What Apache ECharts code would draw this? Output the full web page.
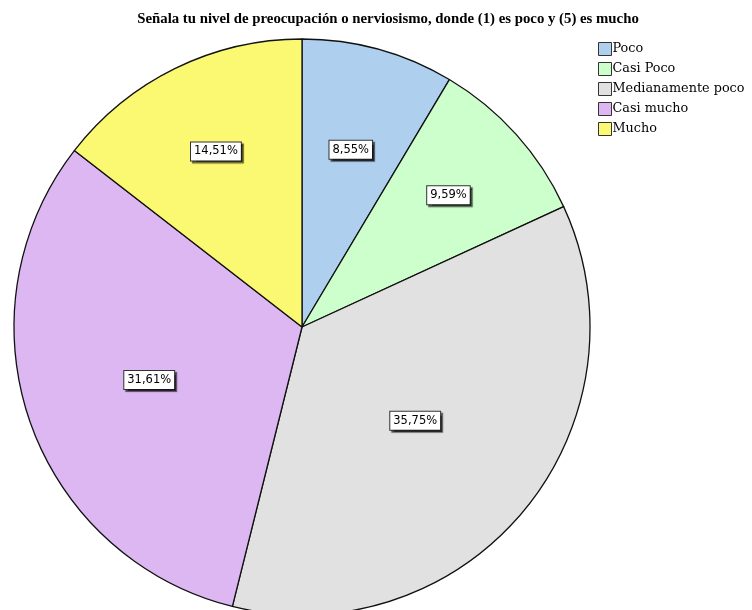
<!DOCTYPE html>
<html>
<head>
<meta charset="utf-8">
<script src="https://cdn.jsdelivr.net/npm/echarts@6/dist/echarts.min.js"></script>
<style>
html,body{margin:0;padding:0;background:#fff;}
#chart{width:752px;height:610px;}
</style>
</head>
<body>
<div id="chart"></div>
<script>
var titleText = 'Señala tu nivel de preocupación o nerviosismo, donde (1) es poco y (5) es mucho';
var categories = ['Poco', 'Casi Poco', 'Medianamente poco', 'Casi mucho', 'Mucho'];
var percents = [8.55, 9.59, 35.75, 31.61, 14.51];

var colors = ['#aecfee', '#ccffcc', '#e1e1e1', '#dcb7f2', '#fbf871'];
var labelRadiusFactor = [0.625, 0.67, 0.5, 0.55, 0.665];
var pieCenter = [302, 327];
var pieRadius = 288;

var chart = echarts.init(document.getElementById('chart'), null, {renderer: 'canvas'});

var seriesData = categories.map(function (c, i) {
  return {name: c, value: percents[i], itemStyle: {color: colors[i]}};
});

chart.setOption({
  animation: false,
  backgroundColor: '#ffffff',
  title: {
    text: titleText,
    left: 383,
    top: 7,
    textAlign: 'center',
    textStyle: {fontFamily: 'Liberation Serif', fontWeight: 'bold', fontSize: 14.8, color: '#000'}
  },
  legend: {
    orient: 'vertical',
    left: 593,
    top: 37,
    itemWidth: 13,
    itemHeight: 13,
    itemGap: 6,
    icon: 'rect',
    selectedMode: false,
    data: categories,
    itemStyle: {borderColor: '#333', borderWidth: 1},
    textStyle: {fontFamily: 'DejaVu Serif', fontSize: 12.8, color: '#000', padding: [0, 0, 0, -4]}
  },
  series: [{
    type: 'pie',
    center: pieCenter,
    radius: [0, pieRadius],
    startAngle: 90,
    clockwise: true,
    silent: true,
    itemStyle: {borderColor: '#111', borderWidth: 1.3},
    label: {
      show: true,
      position: 'inside',
      formatter: function (p) { return p.value.toFixed(2).replace('.', ',') + '%'; },
      fontFamily: 'DejaVu Sans',
      fontSize: 11.5,
      color: '#000',
      backgroundColor: '#fff',
      borderColor: '#333',
      borderWidth: 1,
      padding: [3, 3, 3, 3],
      shadowColor: 'rgba(0,0,0,0.6)',
      shadowOffsetX: 2,
      shadowOffsetY: 2,
      shadowBlur: 1
    },
    labelLine: {show: false},
    labelLayout: function (params) {
      var r = params.labelRect;
      var cx = r.x + r.width / 2;
      var cy = r.y + r.height / 2;
      var f = labelRadiusFactor[params.dataIndex] / 0.5 - 1;
      return {dx: (cx - pieCenter[0]) * f, dy: (cy - pieCenter[1]) * f};
    },
    data: seriesData
  }]
});
</script>
</body>
</html>
